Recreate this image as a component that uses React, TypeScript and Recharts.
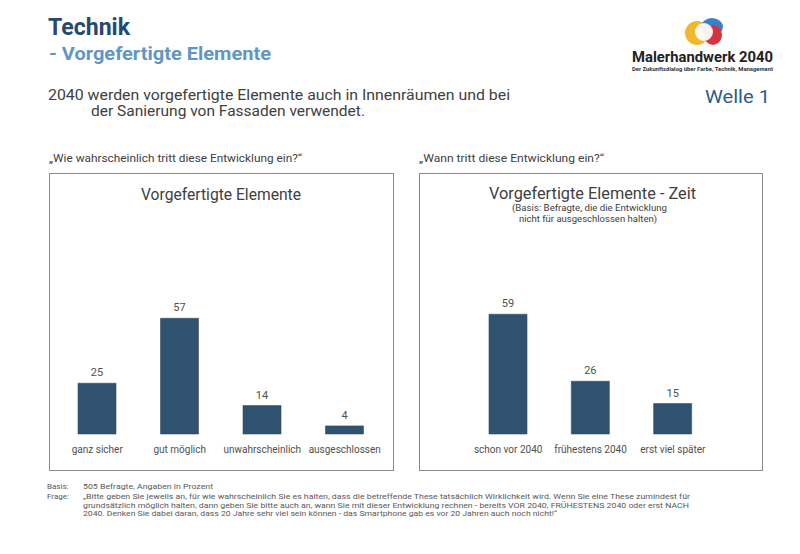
import { Bar, BarChart, LabelList, XAxis, YAxis } from "recharts";

const wahrscheinlichKategorien = ["ganz sicher", "gut möglich", "unwahrscheinlich", "ausgeschlossen"];
const wahrscheinlichWerte = [25, 57, 14, 4];

const zeitKategorien = ["schon vor 2040", "frühestens 2040", "erst viel später"];
const zeitWerte = [59, 26, 15];

const fragezeilen = [
  "„Bitte geben Sie jeweils an, für wie wahrscheinlich Sie es halten, dass die betreffende These tatsächlich Wirklichkeit wird. Wenn Sie eine These zumindest für",
  "grundsätzlich möglich halten, dann geben Sie bitte auch an, wann Sie mit dieser Entwicklung rechnen  - bereits VOR 2040, FRÜHESTENS 2040 oder erst NACH",
  "2040. Denken Sie dabei daran, dass 20 Jahre sehr viel sein können - das Smartphone gab es vor 20 Jahren auch noch nicht!“",
];

const BAR = "#2e5270";
const GRAU = "#404040";
const FONT = "Roboto, 'Noto Sans', sans-serif";

const wahrscheinlichData = wahrscheinlichKategorien.map((name, i) => ({ name, wert: wahrscheinlichWerte[i] }));
const zeitData = zeitKategorien.map((name, i) => ({ name, wert: zeitWerte[i] }));

function Panel({
  data,
  left,
  width,
  marginX,
}: {
  data: { name: string; wert: number }[];
  left: number;
  width: number;
  marginX: [number, number];
}) {
  return (
    <div style={{ position: "absolute", left, top: 173 }}>
      <BarChart
        width={width}
        height={298}
        data={data}
        margin={{ top: 58, right: marginX[1], bottom: 7, left: marginX[0] }}
        style={{ fontFamily: FONT }}
      >
        <XAxis
          dataKey="name"
          axisLine={false}
          tickLine={false}
          interval={0}
          tickMargin={6}
          tick={{ fontSize: 10, fill: "#505050" }}
        />
        <YAxis hide domain={[0, 100]} />
        <Bar dataKey="wert" fill={BAR} stroke="#3d4b57" strokeWidth={0.6} barSize={38} isAnimationActive={false}>
          <LabelList dataKey="wert" position="top" offset={7} fill="#505050" fontSize={11} />
        </Bar>
      </BarChart>
    </div>
  );
}

export default function App() {
  return (
    <div style={{ position: "absolute", left: 0, top: 0, width: 800, height: 554, background: "#fff", overflow: "hidden" }}>
      <svg width={800} height={554} style={{ position: "absolute", left: 0, top: 0, fontFamily: FONT }}>
        <text x={48} y={35} fontSize={24} fontWeight={700} fill="#264a6e" textLength={82} lengthAdjust="spacingAndGlyphs">
          Technik
        </text>
        <text x={49} y={60} fontSize={18} fontWeight={700} fill="#5f96c4" textLength={222} lengthAdjust="spacingAndGlyphs">
          - Vorgefertigte Elemente
        </text>
        <text x={48} y={100} fontSize={14.5} fill={GRAU} textLength={462} lengthAdjust="spacingAndGlyphs">
          2040  werden vorgefertigte Elemente auch in Innenräumen und bei
        </text>
        <text x={91} y={116} fontSize={14.5} fill={GRAU} textLength={274} lengthAdjust="spacingAndGlyphs">
          der Sanierung von Fassaden verwendet.
        </text>
        <text x={705} y={103} fontSize={19} fill="#2e5b88" textLength={65} lengthAdjust="spacingAndGlyphs">
          Welle 1
        </text>

        {/* Logo */}
        <g>
          <ellipse cx={697} cy={33} rx={12} ry={12} fill="#f2b631" transform="rotate(-20 697 33)" />
          <ellipse cx={712} cy={27} rx={11} ry={9} fill="#3d7fc6" />
          <ellipse cx={713} cy={35} rx={9} ry={10} fill="#d6323f" />
          <ellipse cx={704} cy={32} rx={9} ry={9} fill="#ffffff" opacity={0.92} />
          <text x={632} y={62} fontSize={14} fontWeight={700} fill="#222" textLength={141} lengthAdjust="spacingAndGlyphs">
            Malerhandwerk 2040
          </text>
          <text x={632} y={71} fontSize={6} fontWeight={700} fill="#333" textLength={141} lengthAdjust="spacingAndGlyphs">
            Der Zukunftsdialog über Farbe, Technik, Management
          </text>
        </g>

        <text x={49} y={162} fontSize={11} fill={GRAU} textLength={253} lengthAdjust="spacingAndGlyphs">
          „Wie wahrscheinlich tritt diese Entwicklung ein?“
        </text>
        <text x={419} y={162} fontSize={11} fill={GRAU} textLength={185} lengthAdjust="spacingAndGlyphs">
          „Wann tritt diese Entwicklung ein?“
        </text>

        <rect x={49.5} y={173.5} width={344} height={297} fill="none" stroke="#8a8a8a" strokeWidth={1} />
        <rect x={419.5} y={173.5} width={343} height={297} fill="none" stroke="#8a8a8a" strokeWidth={1} />

        <text x={141} y={200} fontSize={17} fill={GRAU} textLength={160} lengthAdjust="spacingAndGlyphs">
          Vorgefertigte Elemente
        </text>
        <text x={489} y={199} fontSize={17} fill={GRAU} textLength={207} lengthAdjust="spacingAndGlyphs">
          Vorgefertigte Elemente - Zeit
        </text>
        <text x={512} y={211} fontSize={9.5} fill={GRAU} textLength={155} lengthAdjust="spacingAndGlyphs">
          (Basis: Befragte, die die Entwicklung
        </text>
        <text x={519} y={222} fontSize={9.5} fill={GRAU} textLength={138} lengthAdjust="spacingAndGlyphs">
          nicht für ausgeschlossen halten)
        </text>

        <text x={47} y={489} fontSize={8} fill="#595959">
          Basis:
        </text>
        <text x={83} y={489} fontSize={8} fill="#595959" textLength={130} lengthAdjust="spacingAndGlyphs">
          505 Befragte, Angaben in Prozent
        </text>
        <text x={47} y={499} fontSize={8} fill="#595959">
          Frage:
        </text>
        {fragezeilen.map((zeile, i) => (
          <text
            key={i}
            x={83}
            y={499 + i * 8.7}
            fontSize={8}
            fill="#595959"
            textLength={[607, 606, 474][i]}
            lengthAdjust="spacingAndGlyphs"
          >
            {zeile}
          </text>
        ))}
      </svg>

      <Panel data={wahrscheinlichData} left={49} width={345} marginX={[7, 8]} />
      <Panel data={zeitData} left={419} width={344} marginX={[48, 49]} />
    </div>
  );
}
